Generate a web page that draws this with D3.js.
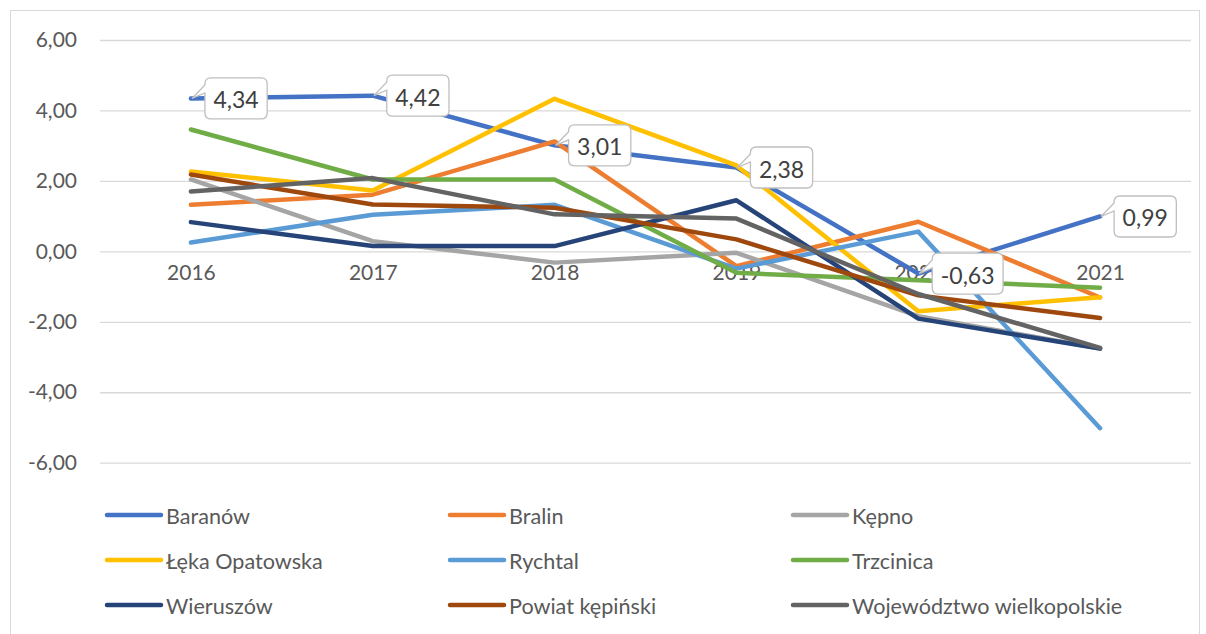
<!DOCTYPE html>
<html><head><meta charset="utf-8">
<script src="https://cdn.jsdelivr.net/npm/d3@7"></script>
<style>body{margin:0;background:#fff}svg{display:block}text{font-family:Lato,"Open Sans",sans-serif}</style>
</head><body><svg id="c" width="1206" height="634"></svg>
<script>
const years = ["2016","2017","2018","2019","2020","2021"];
const yTicks = [6,4,2,0,-2,-4,-6];
const seriesNames = ["Baranów","Bralin","Kępno","Łęka Opatowska","Rychtal","Trzcinica","Wieruszów","Powiat kępiński","Województwo wielkopolskie"];
const colors = ["#4472C4","#ED7D31","#A5A5A5","#FFC000","#5B9BD5","#70AD47","#264478","#9E480E","#636363"];
const baranow = [4.34,4.42,3.01,2.38,-0.63,0.99];
const bralin = [1.32,1.61,3.12,-0.42,0.84,-1.31];
const kepno = [2.04,0.29,-0.32,-0.04,-1.84,-2.76];
const leka = [2.27,1.73,4.33,2.44,-1.70,-1.30];
const rychtal = [0.25,1.04,1.32,-0.49,0.56,-5.02];
const trzcinica = [3.46,2.04,2.04,-0.61,-0.82,-1.03];
const wieruszow = [0.83,0.15,0.15,1.45,-1.91,-2.76];
const powiat = [2.18,1.33,1.24,0.34,-1.25,-1.89];
const wojewodztwo = [1.70,2.08,1.05,0.93,-1.21,-2.74];
const allValues = [baranow,bralin,kepno,leka,rychtal,trzcinica,wieruszow,powiat,wojewodztwo];
const labelledSeries = 0;

const fmt = d => d3.format(".2f")(d).replace("\u2212","-").replace(".",",");

const svg = d3.select("#c");
const x = d3.scalePoint().domain(years).range([100,1191]).padding(0.5);
const y = d3.scaleLinear().domain([-6,6]).range([462.7,40]);

svg.append("rect").attr("x",10.5).attr("y",10.5).attr("width",1189).attr("height",640)
  .attr("fill","#fff").attr("stroke","#d9d9d9").attr("stroke-width",1);

// gridlines
const yAxis = d3.axisLeft(y).tickValues(yTicks).tickSize(-1091).tickPadding(23).tickFormat(fmt);
const gy = svg.append("g").attr("transform","translate(100,0)").call(yAxis);
gy.select(".domain").remove();
gy.selectAll(".tick line").attr("stroke","#d9d9d9").attr("stroke-width",1.3);
gy.selectAll(".tick text").attr("fill","#595959").style("font-size","21px").attr("font-family","Lato");

// x labels
const xAxis = d3.axisBottom(x).tickSize(0).tickPadding(14);
const gx = svg.append("g").attr("transform",`translate(0,${y(0)})`).call(xAxis);
gx.select(".domain").remove();
gx.selectAll(".tick text").attr("fill","#595959").style("font-size","21px").attr("font-family","Lato");

// lines
const line = d3.line().x((d,i)=>x(years[i])).y(d=>y(d));
allValues.forEach((vals,k)=>{
  svg.append("path").datum(vals).attr("d",line).attr("fill","none")
    .attr("stroke",colors[k]).attr("stroke-width",4.5)
    .attr("stroke-linejoin","round").attr("stroke-linecap","round");
});

// callout labels
const lbl = svg.append("g");
allValues[labelledSeries].forEach((v,i)=>{
  const px = x(years[i]), py = y(v);
  const t = lbl.append("text").attr("font-size","23px").attr("fill","#404040").text(fmt(v));
  const w = t.node().getComputedTextLength() + 17, h = 41, r = 6;
  const bx = px + 14, by = py - 20.5;
  const p = `M${bx+r},${by} H${bx+w-r} Q${bx+w},${by} ${bx+w},${by+r} V${by+h-r} Q${bx+w},${by+h} ${bx+w-r},${by+h} H${bx+r} Q${bx},${by+h} ${bx},${by+h-r} V${by+15} L${px+1},${py} L${bx},${by+7} V${by+r} Q${bx},${by} ${bx+r},${by} Z`;
  lbl.insert("path","text").attr("d",p).attr("fill","#fff").attr("stroke","#bfbfbf").attr("stroke-width",1.3);
  t.attr("x",bx+w/2).attr("y",by+h/2+1).attr("text-anchor","middle").attr("dominant-baseline","central");
});

// legend
const cols = [107,450,793], rows = [515,560,605];
seriesNames.forEach((n,k)=>{
  const cx = cols[k%3], cy = rows[Math.floor(k/3)];
  const g = svg.append("g");
  g.append("line").attr("x1",cx).attr("x2",cx+54).attr("y1",cy).attr("y2",cy)
    .attr("stroke",colors[k]).attr("stroke-width",4.5).attr("stroke-linecap","round");
  g.append("text").attr("x",cx+59).attr("y",cy+1).attr("dominant-baseline","central")
    .attr("font-size","21.6px").attr("fill","#595959").text(n);
});
</script></body></html>
